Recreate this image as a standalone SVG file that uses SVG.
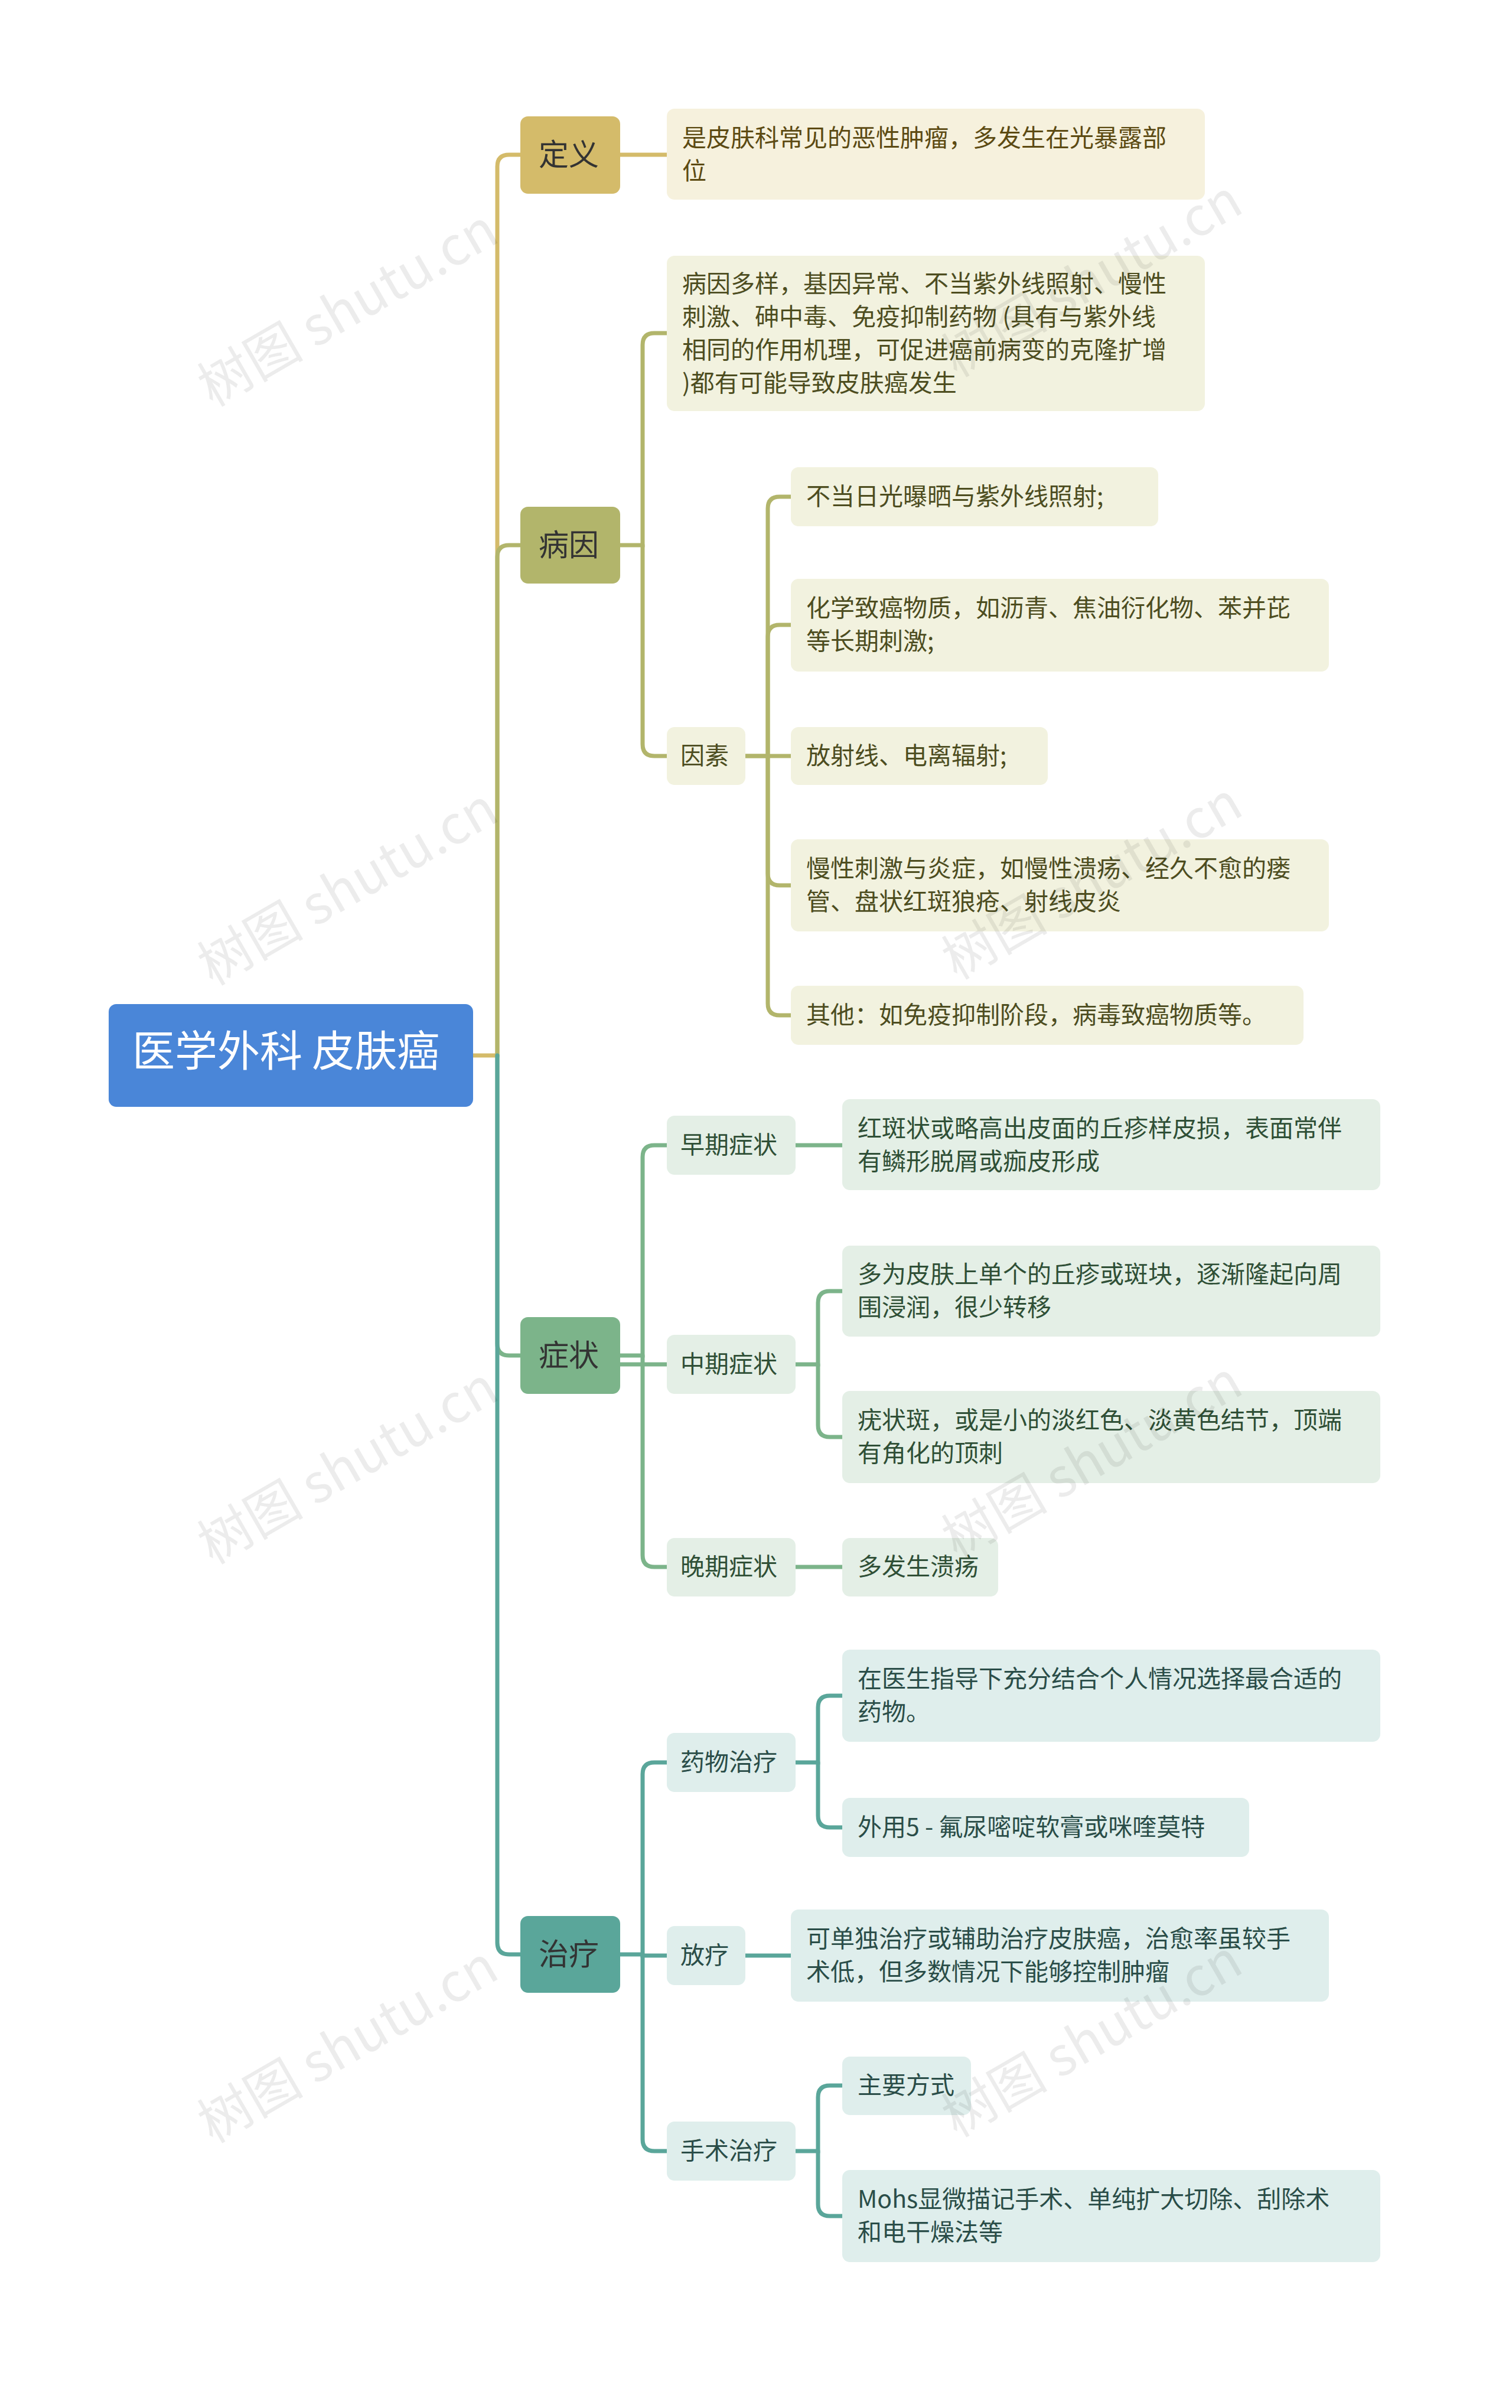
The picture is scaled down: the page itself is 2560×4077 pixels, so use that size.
<svg xmlns="http://www.w3.org/2000/svg" width="2560" height="4077" viewBox="0 0 2560 4077">
<style>
text{font-family:"Noto Sans CJK SC","Noto Sans",sans-serif;}
.l1{font-size:51px;fill:#333;}
.t{font-size:41px;}
.c{fill:none;stroke-width:7;stroke-linecap:round;}
.wm{font-size:90px;fill:#000;opacity:0.07;}
</style>
<rect width="2560" height="4077" fill="#fff"/>
<g id="connectors">
<path class="c" stroke="#d4bb6a" d="M801 1787 H842 V282 Q842 262 862 262 H881"/>
<path class="c" stroke="#b2b56b" d="M842 1787 V943 Q842 923 862 923 H881"/>
<path class="c" stroke="#7cb48a" d="M842 1787 V2275 Q842 2295 862 2295 H881"/>
<path class="c" stroke="#5aa69a" d="M842 1787 V3289 Q842 3309 862 3309 H881"/>
<path class="c" stroke="#d4bb6a" d="M1050 262 H1129"/>
<g stroke="#b2b56b">
<path class="c" d="M1050 923 H1088 V584 Q1088 564 1108 564 H1129"/>
<path class="c" d="M1088 923 V1260 Q1088 1280 1108 1280 H1129"/>
<path class="c" d="M1262 1280 H1300 V861 Q1300 841 1320 841 H1339"/>
<path class="c" d="M1300 1280 V1078 Q1300 1058 1320 1058 H1339"/>
<path class="c" d="M1262 1280 H1339"/>
<path class="c" d="M1300 1280 V1479 Q1300 1499 1320 1499 H1339"/>
<path class="c" d="M1300 1280 V1699 Q1300 1719 1320 1719 H1339"/>
</g>
<g stroke="#7cb48a">
<path class="c" d="M1050 2295 H1088 V1959 Q1088 1939 1108 1939 H1129"/>
<path class="c" d="M1050 2310 H1129"/>
<path class="c" d="M1088 2295 V2633 Q1088 2653 1108 2653 H1129"/>
<path class="c" d="M1347 1939 H1426"/>
<path class="c" d="M1347 2310 H1385 V2206 Q1385 2186 1405 2186 H1426"/>
<path class="c" d="M1385 2310 V2413 Q1385 2433 1405 2433 H1426"/>
<path class="c" d="M1347 2653 H1426"/>
</g>
<g stroke="#5aa69a">
<path class="c" d="M1050 3309 H1088 V3004 Q1088 2984 1108 2984 H1129"/>
<path class="c" d="M1088 3309 V3311 H1129"/>
<path class="c" d="M1088 3309 V3622 Q1088 3642 1108 3642 H1129"/>
<path class="c" d="M1347 2984 H1385 V2891 Q1385 2871 1405 2871 H1426"/>
<path class="c" d="M1385 2984 V3074 Q1385 3094 1405 3094 H1426"/>
<path class="c" d="M1262 3311 H1339"/>
<path class="c" d="M1347 3642 H1385 V3551 Q1385 3531 1405 3531 H1426"/>
<path class="c" d="M1385 3642 V3732 Q1385 3752 1405 3752 H1426"/>
</g>
</g>
<g id="root"><rect x="184" y="1700" width="617" height="174" rx="13" fill="#4a86d8"/><text x="224" y="1805" font-size="72" fill="#fff">医学外科 皮肤癌</text></g>
<g id="n-def"><rect x="881" y="197" width="169" height="131" rx="13" fill="#d4bb6a"/><text class="l1" x="912" y="280">定义</text></g>
<g id="n-cause"><rect x="881" y="858" width="169" height="130" rx="13" fill="#b2b56b"/><text class="l1" x="912" y="941">病因</text></g>
<g id="n-sym"><rect x="881" y="2230" width="169" height="130" rx="13" fill="#7cb48a"/><text class="l1" x="912" y="2313">症状</text></g>
<g id="n-treat"><rect x="881" y="3244" width="169" height="130" rx="13" fill="#5aa69a"/><text class="l1" x="912" y="3327">治疗</text></g>
<g id="def1"><rect x="1129" y="184" width="911" height="154" rx="13" fill="#f6f1dd"/><text class="t" fill="#5c4a12"><tspan x="1155" y="248">是皮肤科常见的恶性肿瘤，多发生在光暴露部</tspan><tspan x="1155" y="304">位</tspan></text></g>
<g fill="#4d4d1f">
<g id="c1"><rect x="1129" y="433" width="911" height="263" rx="13" fill="#f2f2df"/><text class="t"><tspan x="1155" y="495">病因多样，基因异常、不当紫外线照射、慢性</tspan><tspan x="1155" y="551">刺激、砷中毒、免疫抑制药物 (具有与紫外线</tspan><tspan x="1155" y="607">相同的作用机理，可促进癌前病变的克隆扩增</tspan><tspan x="1155" y="663">)都有可能导致皮肤癌发生</tspan></text></g>
<g id="c2"><rect x="1129" y="1231" width="133" height="98" rx="13" fill="#f2f2df"/><text class="t" x="1152" y="1294">因素</text></g>
<g id="c21"><rect x="1339" y="791" width="622" height="100" rx="13" fill="#f2f2df"/><text class="t" x="1365" y="855">不当日光曝晒与紫外线照射;</text></g>
<g id="c22"><rect x="1339" y="980" width="911" height="157" rx="13" fill="#f2f2df"/><text class="t"><tspan x="1365" y="1044">化学致癌物质，如沥青、焦油衍化物、苯并芘</tspan><tspan x="1365" y="1100">等长期刺激;</tspan></text></g>
<g id="c23"><rect x="1339" y="1231" width="435" height="98" rx="13" fill="#f2f2df"/><text class="t" x="1365" y="1294">放射线、电离辐射;</text></g>
<g id="c24"><rect x="1339" y="1421" width="911" height="156" rx="13" fill="#f2f2df"/><text class="t"><tspan x="1365" y="1485">慢性刺激与炎症，如慢性溃疡、经久不愈的瘘</tspan><tspan x="1365" y="1541">管、盘状红斑狼疮、射线皮炎</tspan></text></g>
<g id="c25"><rect x="1339" y="1669" width="868" height="100" rx="13" fill="#f2f2df"/><text class="t" x="1365" y="1733">其他：如免疫抑制阶段，病毒致癌物质等。</text></g>
</g>
<g fill="#2f4f36">
<g id="s1"><rect x="1129" y="1889" width="218" height="100" rx="13" fill="#e4efe6"/><text class="t" x="1152" y="1953">早期症状</text></g>
<g id="s11"><rect x="1426" y="1861" width="911" height="154" rx="13" fill="#e4efe6"/><text class="t"><tspan x="1452" y="1925">红斑状或略高出皮面的丘疹样皮损，表面常伴</tspan><tspan x="1452" y="1981">有鳞形脱屑或痂皮形成</tspan></text></g>
<g id="s2"><rect x="1129" y="2260" width="218" height="100" rx="13" fill="#e4efe6"/><text class="t" x="1152" y="2324">中期症状</text></g>
<g id="s21"><rect x="1426" y="2109" width="911" height="154" rx="13" fill="#e4efe6"/><text class="t"><tspan x="1452" y="2172">多为皮肤上单个的丘疹或斑块，逐渐隆起向周</tspan><tspan x="1452" y="2228">围浸润，很少转移</tspan></text></g>
<g id="s22"><rect x="1426" y="2355" width="911" height="156" rx="13" fill="#e4efe6"/><text class="t"><tspan x="1452" y="2419">疣状斑，或是小的淡红色、淡黄色结节，顶端</tspan><tspan x="1452" y="2475">有角化的顶刺</tspan></text></g>
<g id="s3"><rect x="1129" y="2604" width="218" height="99" rx="13" fill="#e4efe6"/><text class="t" x="1152" y="2667">晚期症状</text></g>
<g id="s31"><rect x="1426" y="2604" width="264" height="99" rx="13" fill="#e4efe6"/><text class="t" x="1452" y="2667">多发生溃疡</text></g>
</g>
<g fill="#2a4d48">
<g id="t1"><rect x="1129" y="2934" width="218" height="100" rx="13" fill="#dfeeec"/><text class="t" x="1152" y="2998">药物治疗</text></g>
<g id="t11"><rect x="1426" y="2793" width="911" height="156" rx="13" fill="#dfeeec"/><text class="t"><tspan x="1452" y="2857">在医生指导下充分结合个人情况选择最合适的</tspan><tspan x="1452" y="2913">药物。</tspan></text></g>
<g id="t12"><rect x="1426" y="3044" width="689" height="100" rx="13" fill="#dfeeec"/><text class="t" x="1452" y="3108">外用5 - 氟尿嘧啶软膏或咪喹莫特</text></g>
<g id="t2"><rect x="1129" y="3261" width="133" height="100" rx="13" fill="#dfeeec"/><text class="t" x="1152" y="3325">放疗</text></g>
<g id="t21"><rect x="1339" y="3233" width="911" height="156" rx="13" fill="#dfeeec"/><text class="t"><tspan x="1365" y="3297">可单独治疗或辅助治疗皮肤癌，治愈率虽较手</tspan><tspan x="1365" y="3353">术低，但多数情况下能够控制肿瘤</tspan></text></g>
<g id="t3"><rect x="1129" y="3592" width="218" height="100" rx="13" fill="#dfeeec"/><text class="t" x="1152" y="3656">手术治疗</text></g>
<g id="t31"><rect x="1426" y="3482" width="218" height="99" rx="13" fill="#dfeeec"/><text class="t" x="1452" y="3545">主要方式</text></g>
<g id="t32"><rect x="1426" y="3674" width="911" height="156" rx="13" fill="#dfeeec"/><text class="t"><tspan x="1452" y="3738">Mohs显微描记手术、单纯扩大切除、刮除术</tspan><tspan x="1452" y="3794">和电干燥法等</tspan></text></g>
</g>
<g id="watermarks">
<text class="wm" transform="translate(360 690) rotate(-30)">树图 shutu.cn</text>
<text class="wm" transform="translate(1620 640) rotate(-30)">树图 shutu.cn</text>
<text class="wm" transform="translate(360 1670) rotate(-30)">树图 shutu.cn</text>
<text class="wm" transform="translate(1620 1660) rotate(-30)">树图 shutu.cn</text>
<text class="wm" transform="translate(360 2650) rotate(-30)">树图 shutu.cn</text>
<text class="wm" transform="translate(1620 2640) rotate(-30)">树图 shutu.cn</text>
<text class="wm" transform="translate(360 3630) rotate(-30)">树图 shutu.cn</text>
<text class="wm" transform="translate(1620 3620) rotate(-30)">树图 shutu.cn</text>
</g>
</svg>
